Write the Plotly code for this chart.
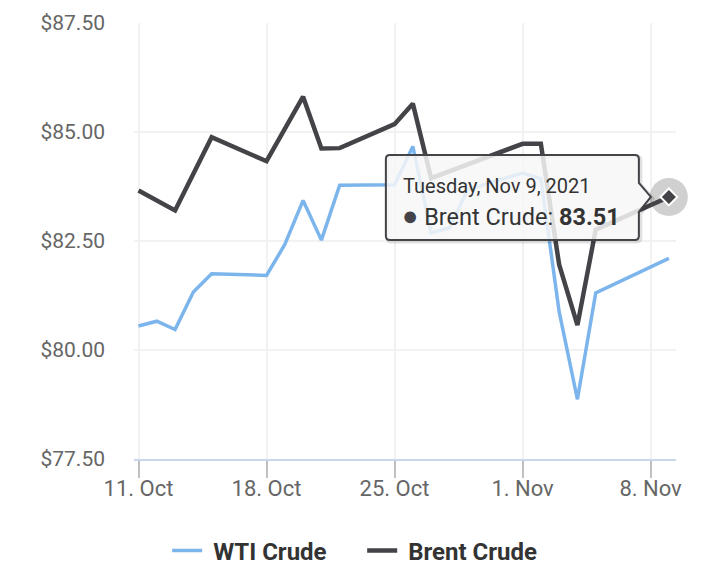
import plotly.graph_objects as go
import pandas as pd

# ---- data ----
wti_dates = ["2021-10-11", "2021-10-12", "2021-10-13", "2021-10-14", "2021-10-15",
             "2021-10-18", "2021-10-19", "2021-10-20", "2021-10-21", "2021-10-22",
             "2021-10-25", "2021-10-26", "2021-10-27", "2021-10-28", "2021-10-29",
             "2021-11-01", "2021-11-02", "2021-11-03", "2021-11-04", "2021-11-05",
             "2021-11-09"]
wti_values = [80.55, 80.66, 80.47, 81.33, 81.75,
              81.71, 82.42, 83.43, 82.52, 83.78,
              83.79, 84.67, 82.69, 82.80, 83.68,
              84.06, 83.93, 80.88, 78.87, 81.31,
              82.10]

brent_dates = ["2021-10-11", "2021-10-13", "2021-10-15", "2021-10-18", "2021-10-20",
               "2021-10-21", "2021-10-22", "2021-10-25", "2021-10-26", "2021-10-27",
               "2021-11-01", "2021-11-02", "2021-11-03", "2021-11-04", "2021-11-05",
               "2021-11-09"]
brent_values = [83.66, 83.20, 84.88, 84.33, 85.81,
                84.62, 84.63, 85.18, 85.65, 83.94,
                84.73, 84.73, 81.96, 80.57, 82.76,
                83.51]

x_tick_vals = ["2021-10-11", "2021-10-18", "2021-10-25", "2021-11-01", "2021-11-08"]
x_tick_text = ["11. Oct", "18. Oct", "25. Oct", "1. Nov", "8. Nov"]
y_tick_vals = [77.5, 80.0, 82.5, 85.0, 87.5]
y_tick_text = ["$77.50", "$80.00", "$82.50", "$85.00", "$87.50"]

WTI_COLOR = "#7cb5ec"
BRENT_COLOR = "#434348"
FONT = "Roboto"

fig = go.Figure()
fig.add_trace(go.Scatter(x=wti_dates, y=wti_values, name="&nbsp;WTI Crude", mode="lines",
                         line=dict(color=WTI_COLOR, width=3.5), hoverinfo="skip"))
fig.add_trace(go.Scatter(x=brent_dates, y=brent_values, name="&nbsp;Brent Crude", mode="lines",
                         line=dict(color=BRENT_COLOR, width=4.5), hoverinfo="skip"))

# hovered point: halo + diamond marker
hx, hy = brent_dates[-1], brent_values[-1]
fig.add_trace(go.Scatter(x=[hx], y=[hy], mode="markers", showlegend=False, hoverinfo="skip",
                         cliponaxis=False,
                         marker=dict(size=38, color="rgba(67,67,72,0.25)", line=dict(width=0))))
fig.add_trace(go.Scatter(x=[hx], y=[hy], mode="markers", showlegend=False, hoverinfo="skip",
                         cliponaxis=False,
                         marker=dict(symbol="diamond", size=13, color=BRENT_COLOR,
                                     line=dict(color="white", width=2))))

# tooltip callout (pixel offsets from the hovered point)
def callout(dx=0, dy=0):
    L, R, T, B, r = -283 + dx, -30 + dx, 42 + dy, -43 + dy, 4
    return (f"M {L+r},{T} L {R-r},{T} Q {R},{T} {R},{T-r} L {R},{14+dy} L {-18+dx},{0+dy} "
            f"L {R},{-15+dy} L {R},{B+r} Q {R},{B} {R-r},{B} L {L+r},{B} Q {L},{B} {L},{B+r} "
            f"L {L},{T-r} Q {L},{T} {L+r},{T} Z")

fig.add_shape(type="path", path=callout(1.5, -1.5), xref="x", yref="y",
              xsizemode="pixel", ysizemode="pixel", xanchor=hx, yanchor=hy,
              line=dict(color="rgba(0,0,0,0.12)", width=4), fillcolor="rgba(0,0,0,0)",
              layer="above")
fig.add_shape(type="path", path=callout(), xref="x", yref="y",
              xsizemode="pixel", ysizemode="pixel", xanchor=hx, yanchor=hy,
              line=dict(color=BRENT_COLOR, width=2), fillcolor="rgba(247,247,247,0.85)",
              layer="above")

d = pd.Timestamp(hx)
header = f"{d:%A}, {d:%b} {d.day}, {d.year}"
body = (f"<span style='font-size:27px;color:{BRENT_COLOR}'>●</span> Brent Crude: "
        f"<b>{hy:.2f}</b>")
fig.add_annotation(x=hx, y=hy, xref="x", yref="y", text=header, showarrow=False,
                   xanchor="left", yanchor="middle", xshift=-268, yshift=11,
                   font=dict(family=FONT, size=20, color="#333333"))
fig.add_annotation(x=hx, y=hy, xref="x", yref="y", text=body, showarrow=False,
                   xanchor="left", yanchor="middle", xshift=-269, yshift=-19,
                   font=dict(family=FONT, size=23.5, color="#333333"))

fig.update_layout(
    width=712, height=576,
    margin=dict(l=134, r=36, t=23, b=117, autoexpand=False),
    plot_bgcolor="white", paper_bgcolor="white",
    font=dict(family=FONT, color="#666666"),
    hovermode=False,
    legend=dict(orientation="h", x=0.421, xanchor="center", y=-0.211, yanchor="middle",
                entrywidth=150, entrywidthmode="pixels",
                font=dict(family=FONT, size=24, color="#333333", weight=700),
                bgcolor="rgba(0,0,0,0)"),
)
fig.update_xaxes(type="date", range=["2021-10-10 18:06", "2021-11-09 09:21"],
                 tickvals=x_tick_vals, ticktext=x_tick_text,
                 showgrid=True, gridcolor="#f2f2f2", gridwidth=2,
                 showline=True, linecolor="#ccd6eb", linewidth=2,
                 ticks="outside", ticklen=17, tickcolor="#c0c0c0", tickwidth=2,
                 ticklabelstandoff=-8,
                 tickfont=dict(family=FONT, size=22, color="#666666"), zeroline=False)
fig.update_yaxes(range=[77.5, 87.5], tickvals=y_tick_vals, ticktext=y_tick_text,
                 showgrid=True, gridcolor="#f2f2f2", gridwidth=2, zeroline=False,
                 showline=False, ticks="", ticklabelstandoff=28,
                 tickfont=dict(family=FONT, size=21, color="#666666"))

fig.write_html("out.html")
